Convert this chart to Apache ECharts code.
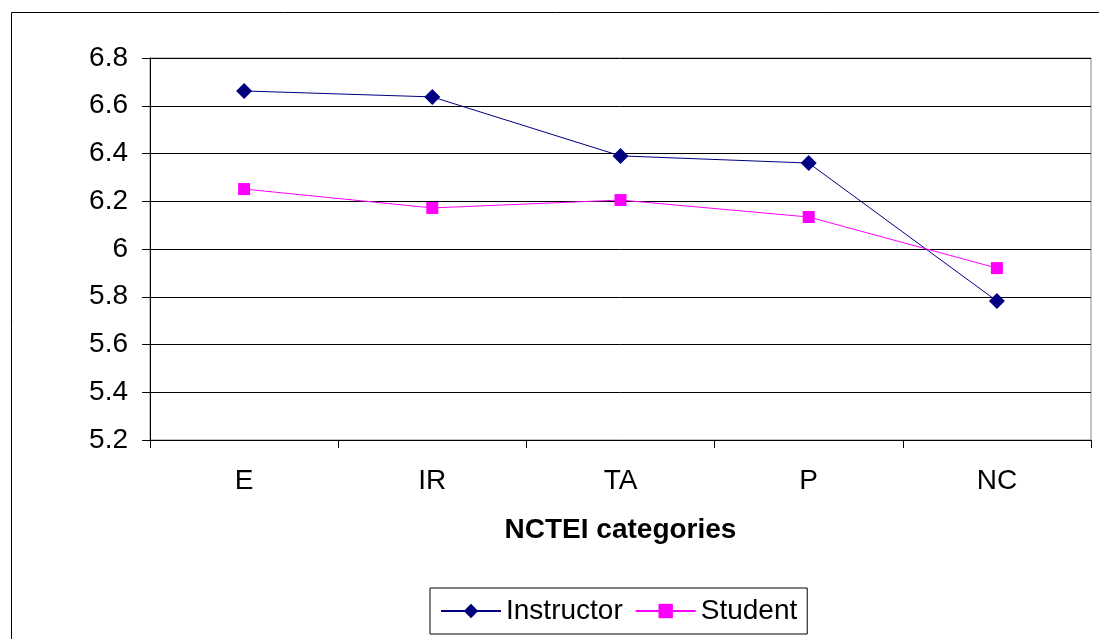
<!DOCTYPE html>
<html>
<head>
<meta charset="utf-8">
<script src="https://cdn.jsdelivr.net/npm/echarts@6/dist/echarts.min.js"></script>
<style>
  html, body { margin: 0; padding: 0; background: #fff; }
  #chart { width: 1099px; height: 639px; }
</style>
</head>
<body>
<div id="chart"></div>
<script>
// NCTEI category means for instructors and students
const categories = ['E', 'IR', 'TA', 'P', 'NC'];
const instructorValues = [6.662, 6.637, 6.39, 6.36, 5.782];
const studentValues = [6.251, 6.172, 6.205, 6.134, 5.92];

const chart = echarts.init(document.getElementById('chart'));
const font = 'Liberation Sans, Arial, sans-serif';

chart.setOption({
  animation: false,
  backgroundColor: '#fff',
  graphic: [{
    type: 'rect',
    shape: { x: 11.5, y: 12.5, width: 1200, height: 700 },
    style: { fill: 'none', stroke: '#000', lineWidth: 1 },
    silent: true,
    z: 0
  }],
  grid: {
    left: 150, right: 8, top: 58, bottom: 199,
    show: true, borderColor: '#888', borderWidth: 1, backgroundColor: 'transparent'
  },
  legend: {
    bottom: 5, left: 430,
    data: ['Instructor', 'Student'],
    itemWidth: 60, itemHeight: 18, itemGap: 12,
    padding: [9, 10, 9, 10],
    borderColor: '#000', borderWidth: 1,
    textStyle: { fontFamily: font, fontSize: 28, color: '#000' }
  },
  xAxis: {
    type: 'category',
    data: categories,
    boundaryGap: true,
    name: 'NCTEI categories',
    nameLocation: 'middle',
    nameGap: 76,
    nameTextStyle: { fontFamily: font, fontSize: 28, fontWeight: 'bold', color: '#000' },
    axisLine: { lineStyle: { color: '#000', width: 1 } },
    axisTick: { show: true, length: 8, lineStyle: { color: '#000' } },
    axisLabel: { fontFamily: font, fontSize: 28, color: '#000', margin: 27 }
  },
  yAxis: {
    type: 'value',
    min: 5.2, max: 6.8, interval: 0.2,
    axisLine: { show: true, lineStyle: { color: '#000', width: 1 } },
    axisTick: { show: true, length: 8, inside: false, lineStyle: { color: '#000' } },
    axisLabel: {
      fontFamily: font, fontSize: 28, color: '#000', margin: 22,
      formatter: v => String(parseFloat(v.toFixed(1)))
    },
    splitLine: { show: true, lineStyle: { color: '#000', width: 1 } }
  },
  series: [
    {
      name: 'Instructor',
      type: 'line',
      data: instructorValues,
      symbol: 'diamond',
      symbolSize: 16,
      itemStyle: { color: '#000080' },
      lineStyle: { color: '#000080', width: 1 }
    },
    {
      name: 'Student',
      type: 'line',
      data: studentValues,
      symbol: 'rect',
      symbolSize: 12,
      itemStyle: { color: '#FF00FF' },
      lineStyle: { color: '#FF00FF', width: 1 }
    }
  ]
});
</script>
</body>
</html>
